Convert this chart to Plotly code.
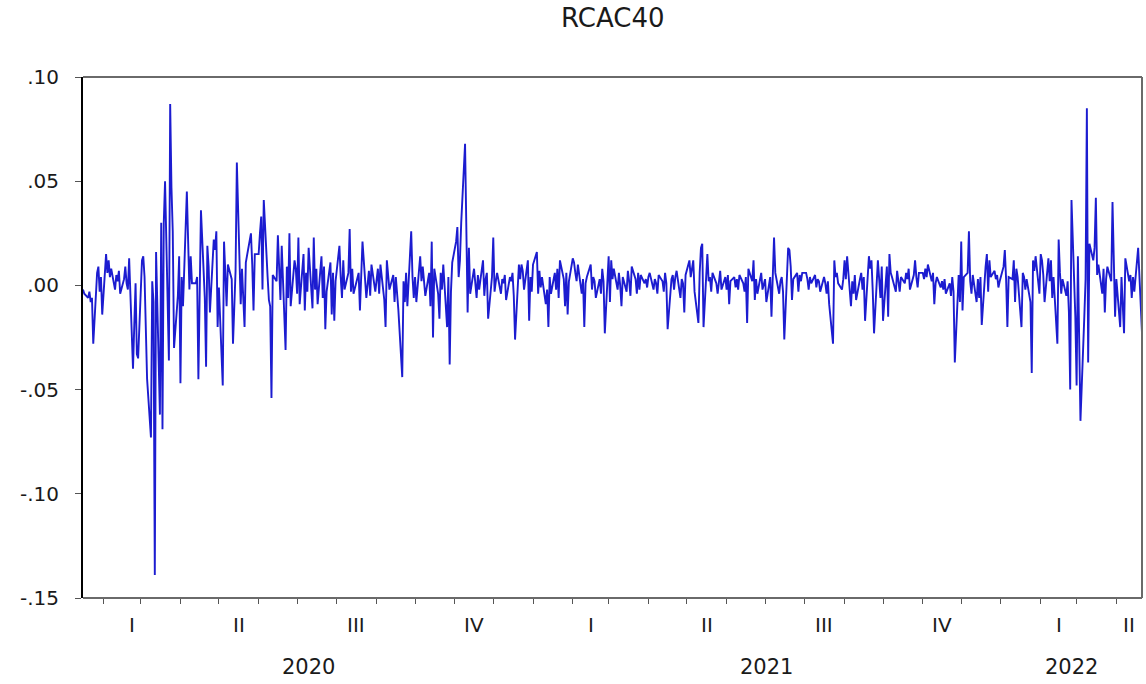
import pandas as pd
import plotly.graph_objects as go

# ---------------- data (daily returns) ----------------
start_date = "2020-01-16"

rcac40_2020 = [
    # Jan (from 16th)
    -0.002, -0.004, -0.006, -0.003, -0.008, -0.006, -0.028, 0.006, 0.009, -0.003, 0.004, -0.014,
    # Feb
    0.015, 0.006, 0.012, 0.004, 0.008, -0.002, 0.005, 0.002, 0.007, -0.004,
    0.003, 0.009, 0.001, -0.002, 0.013, -0.040, -0.019, 0.001, -0.033, -0.035,
    # Mar
    0.012, 0.014, 0.004, -0.022, -0.045, -0.073, 0.002, -0.008, -0.139, 0.016, -0.062,
    0.030, -0.069, 0.030, 0.050, -0.036, 0.087, 0.047, 0.026, -0.030, -0.005, 0.014,
    # Apr
    -0.047, 0.004, -0.010, 0.045, 0.021, -0.002, 0.014, 0.001, 0.001, 0.004, -0.045,
    0.003, 0.036, -0.006, -0.039, 0.019, 0.009, -0.013, 0.022, 0.017, 0.026, -0.020,
    # May
    -0.001, -0.048, 0.021, 0.006, -0.010, 0.010, 0.003, -0.028, -0.014, 0.007, 0.059,
    -0.009, 0.008, -0.006, -0.020, 0.011, 0.023, 0.025, 0.010, -0.012, 0.015,
    # Jun
    0.015, 0.025, 0.033, -0.002, 0.041, 0.004, -0.007, -0.010, -0.054, 0.005, 0.002,
    0.024, 0.010, -0.007, 0.019, -0.031, 0.009, -0.006, 0.025, -0.010, 0.012, 0.008,
    # Jul
    -0.004, 0.023, -0.009, 0.015, -0.012, 0.006, -0.003, 0.018, -0.011, 0.023, -0.002, 0.008,
    -0.009, 0.014, -0.006, 0.009, -0.021, -0.003, 0.011, -0.014, 0.006, -0.017, 0.002,
    # Aug
    0.019, 0.004, -0.006, 0.012, -0.002, 0.006, 0.027, -0.003, 0.008, -0.004, 0.003,
    0.006, -0.012, 0.004, 0.021, -0.006, 0.002, 0.007, -0.005, 0.010, -0.003,
    # Sep
    0.003, 0.008, -0.004, 0.010, -0.007, -0.020, 0.012, 0.003, -0.002, 0.005, -0.008,
    0.004, -0.003, -0.012, -0.044, 0.002, -0.008, 0.006, -0.010, 0.026, 0.004, -0.006,
    # Oct
    0.004, -0.008, 0.014, 0.002, 0.009, 0.003, -0.005, 0.006, -0.010, 0.021, -0.025,
    0.008, -0.004, -0.016, 0.006, -0.002, 0.010, -0.020, 0.004, -0.038, -0.003, 0.011,
    # Nov
    0.021, 0.028, 0.004, 0.012, 0.030, 0.068, 0.015, -0.013, 0.018, -0.004, 0.008,
    0.002, -0.006, 0.005, -0.002, 0.012, -0.005, 0.003, 0.006, -0.016, 0.004,
    # Dec
    0.023, -0.003, 0.002, 0.006, -0.004, 0.003, 0.001, 0.005, -0.007, 0.004, 0.002, 0.006,
    -0.005, -0.026, 0.010, 0.003, 0.010, 0.007, -0.002, 0.012, -0.017, 0.004, -0.003,
]

rcac40_2021 = [
    # Jan
    0.010, 0.016, -0.004, 0.007, -0.001, 0.004, -0.009, -0.002, -0.020, 0.004, -0.004,
    0.006, -0.002, 0.008, -0.006, 0.012, 0.003, -0.010, 0.006, -0.014, 0.002,
    # Feb
    0.013, 0.011, 0.006, 0.002, 0.010, -0.004, 0.003, -0.020, 0.001, 0.004,
    0.010, -0.002, 0.004, 0.002, -0.006, 0.003, -0.004, 0.008, 0.002, -0.023,
    # Mar
    0.014, -0.008, 0.012, 0.003, 0.008, -0.002, 0.006, 0.000, -0.010, 0.004, -0.003, 0.007,
    0.002, -0.005, 0.009, 0.003, -0.004, 0.006, -0.002, 0.005, 0.001, 0.003, -0.001,
    # Apr
    0.004, 0.006, -0.002, 0.003, 0.001, -0.004, 0.005, 0.002, -0.003, 0.006, 0.001,
    -0.021, 0.003, 0.005, -0.002, 0.004, 0.007, -0.006, 0.003, 0.001, -0.013, 0.005,
    # May
    0.012, 0.004, 0.008, 0.012, -0.003, -0.018, 0.006, 0.018, 0.020, -0.020, 0.015,
    0.002, 0.004, -0.003, 0.006, 0.001, -0.004, 0.003, 0.007, -0.002, 0.004,
    # Jun
    -0.002, 0.005, -0.009, 0.002, 0.004, -0.001, 0.003, -0.002, 0.005, 0.001, -0.003,
    0.004, -0.018, 0.008, 0.002, 0.012, -0.007, 0.003, -0.004, 0.006, -0.002, 0.001,
    # Jul
    0.003, -0.008, 0.004, -0.015, 0.002, 0.023, 0.006, -0.004, 0.002, 0.004, -0.003,
    -0.026, 0.018, 0.017, 0.009, -0.007, 0.003, 0.006, -0.003, 0.005, 0.002, 0.006,
    # Aug
    0.006, 0.003, -0.002, 0.004, 0.001, 0.005, -0.001, 0.003, 0.002, -0.003, 0.004,
    0.001, -0.004, 0.002, -0.009, -0.028, 0.012, 0.004, 0.006, 0.001, -0.002, 0.003,
    # Sep
    0.012, 0.003, 0.014, -0.010, 0.002, -0.004, 0.005, -0.007, 0.003, 0.006, -0.002,
    0.004, -0.017, 0.014, 0.008, 0.012, -0.003, -0.023, 0.012, 0.004, -0.006, 0.009,
    # Oct
    -0.017, 0.009, -0.015, 0.015, 0.006, 0.004, -0.003, 0.007, 0.002, -0.003, 0.004,
    0.001, 0.006, 0.003, 0.008, -0.002, 0.005, 0.012, 0.004, -0.001, 0.006,
    # Nov
    0.006, 0.003, 0.008, 0.004, 0.010, 0.002, 0.006, -0.009, 0.001, 0.004, -0.001,
    0.002, -0.002, 0.003, -0.004, 0.001, -0.005, 0.004, -0.003, -0.037, 0.005, -0.008,
    # Dec
    0.021, -0.012, 0.004, 0.006, 0.026, 0.002, -0.004, 0.005, -0.008, 0.003, -0.006, 0.004,
    -0.019, 0.009, 0.015, -0.003, 0.012, 0.004, 0.007, 0.003, 0.005, -0.001, 0.002,
]

rcac40_2022 = [
    # Jan
    0.009, 0.017, 0.003, -0.020, 0.004, 0.003, 0.012, -0.008, 0.008, 0.004, -0.020,
    0.006, 0.004, -0.002, 0.003, -0.008, -0.042, 0.012, 0.007, 0.014, -0.004,
    # Feb
    0.015, 0.012, 0.005, -0.008, 0.013, 0.002, 0.012, -0.006, 0.004, -0.028,
    0.022, 0.006, -0.004, 0.003, -0.005, 0.002, -0.013, -0.050, 0.041, -0.015,
    # Mar
    -0.048, 0.014, -0.020, -0.065, -0.015, 0.003, 0.085, -0.037, 0.020, 0.012, 0.018, 0.042,
    0.005, 0.010, -0.004, 0.008, -0.013, 0.003, 0.009, 0.002, 0.040, 0.006, -0.015,
    # Apr (to 21st)
    0.003, -0.020, 0.004, -0.008, -0.023, 0.013, 0.002, 0.005, -0.006, 0.004,
    -0.003, 0.018, 0.006, -0.012, -0.023,
]

quarter_labels = ["I", "II", "III", "IV", "I", "II", "III", "IV", "I", "II"]
year_labels = ["2020", "2021", "2022"]
y_tick_values = [0.10, 0.05, 0.00, -0.05, -0.10, -0.15]
y_tick_text = [".10", ".05", ".00", "-.05", "-.10", "-.15"]

# ---------------- build figure ----------------
values = rcac40_2020 + rcac40_2021 + rcac40_2022
dates = pd.bdate_range(start=start_date, periods=len(values))
first, last = dates[0], dates[-1]

FONT = "DejaVu Sans"
TXT = "#1a1a1a"

fig = go.Figure(
    go.Scatter(
        x=dates, y=values, mode="lines",
        line=dict(color="#1c1cd0", width=1.9),
        hoverinfo="skip",
    )
)

month_ticks = list(pd.date_range(first, last, freq="MS"))

annotations = []
q_starts = pd.date_range(first.to_period("Q").start_time, last, freq="QS")
for lab, qs in zip(quarter_labels, q_starts):
    qe = (qs.to_period("Q") + 1).start_time
    a, b = max(qs, first), min(qe, last)
    mid = a + (b - a) / 2
    annotations.append(dict(
        x=mid, xref="x", y=0, yref="paper", yshift=-27, yanchor="middle",
        text=lab, showarrow=False, font=dict(family=FONT, size=20, color=TXT)))

for lab in year_labels:
    ys = pd.Timestamp(f"{lab}-01-01")
    ye = pd.Timestamp(f"{int(lab) + 1}-01-01")
    a, b = max(ys, first), min(ye, last)
    mid = a + (b - a) / 2
    annotations.append(dict(
        x=mid, xref="x", y=0, yref="paper", yshift=-69, yanchor="middle",
        text=lab, showarrow=False, font=dict(family=FONT, size=21, color=TXT)))

annotations.append(dict(
    x=0.5, xref="paper", y=1, yref="paper", yshift=59, yanchor="middle",
    text="RCAC40", showarrow=False, font=dict(family=FONT, size=26, color=TXT)))

frame = "#6a6a6a"
shapes = [
    dict(type="line", xref="paper", yref="paper", x0=0, x1=1, y0=1, y1=1,
         line=dict(color=frame, width=2)),
    dict(type="line", xref="paper", yref="paper", x0=1, x1=1, y0=0, y1=1,
         line=dict(color=frame, width=2)),
    dict(type="line", xref="paper", yref="paper", x0=0, x1=1, y0=0, y1=0,
         line=dict(color=frame, width=2)),
]

fig.update_layout(
    width=1146, height=684,
    margin=dict(l=83, r=4, t=77, b=86),
    paper_bgcolor="white", plot_bgcolor="white",
    showlegend=False,
    annotations=annotations,
    shapes=shapes,
    xaxis=dict(
        type="date", range=[first, last],
        tickvals=month_ticks, showticklabels=False,
        ticks="outside", ticklen=5, tickwidth=1, tickcolor="#555",
        showgrid=False, zeroline=False, showline=False,
    ),
    yaxis=dict(
        range=[-0.15, 0.10],
        tickvals=y_tick_values, ticktext=y_tick_text,
        ticks="outside", ticklen=6, tickwidth=1, tickcolor="#555",
        ticklabelstandoff=12,
        tickfont=dict(family=FONT, size=20, color=TXT),
        showgrid=False, zeroline=False,
        showline=True, linecolor="black", linewidth=2,
    ),
)

fig.write_html("out.html")
